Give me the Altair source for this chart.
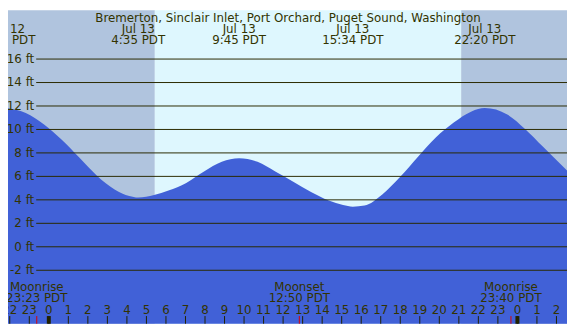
import altair as alt
import pandas as pd

# ---- data (hours relative to Jul 13 00:00 PDT) ----
tide_hours = [-2.09, -1.18, -0.26, 0.65, 1.56, 2.48, 3.39, 4.12, 4.58, 5.39, 6.13, 7.04, 7.95,
              8.86, 9.75, 10.69, 11.60, 12.52, 13.43, 14.34, 15.07, 15.57, 16.17, 17.08,
              18.0, 18.91, 19.82, 20.74, 21.65, 22.33, 23.48, 24.39, 25.30, 26.54]
tide_ft = [11.81, 11.4, 10.45, 9.14, 7.6, 6.04, 4.87, 4.33, 4.2, 4.41, 4.79, 5.44, 6.42,
           7.24, 7.54, 7.24, 6.42, 5.55, 4.68, 3.95, 3.56, 3.42, 3.51, 4.46,
           5.96, 7.67, 9.31, 10.59, 11.54, 11.82, 11.27, 10.04, 8.54, 6.5]

x_start, x_end = -2.09, 26.54
sunrise, sunset = 5.43, 21.12

grid_ft = [-2, 0, 2, 4, 6, 8, 10, 12, 14, 16]
grid_labels = ["-2 ft", "0 ft", "2 ft", "4 ft", "6 ft", "8 ft", "10 ft", "12 ft", "14 ft", "16 ft"]

hour_ticks = list(range(-2, 27))
hour_labels = [str(h % 24) for h in hour_ticks]

extreme_hours = [4.58, 9.75, 15.57, 22.33]
extreme_dates = ["Jul 13", "Jul 13", "Jul 13", "Jul 13"]
extreme_times = ["4:35 PDT", "9:45 PDT", "15:34 PDT", "22:20 PDT"]

moon_hours = [-0.617, 12.83, 23.67]
moon_events = ["Moonrise", "Moonset", "Moonrise"]
moon_times = ["23:23 PDT", "12:50 PDT", "23:40 PDT"]

title_text = "Bremerton, Sinclair Inlet, Port Orchard, Puget Sound, Washington"
corner_texts = ["12", "PDT"]

# ---- styling / layout ----
REF_W, REF_H = 575, 326
W, H = 567, 318
def sx(v):
    return v * W / REF_W
def sy(v):
    return v * H / REF_H

y_lo, y_hi = -6.56, 20.16
TXT = "#333300"
FONT = "DejaVu Sans"
FS = 12

xs = alt.Scale(domain=[x_start, x_end], range=[0, W], nice=False, zero=False)
ys = alt.Scale(domain=[y_lo, y_hi], range=[H, 0], nice=False, zero=False)

bg = pd.DataFrame({
    "x": [x_start, sunrise, sunset],
    "x2": [sunrise, sunset, x_end],
    "kind": ["night", "day", "night"],
})
bg_layer = alt.Chart(bg).mark_rect().encode(
    x=alt.X("x:Q", scale=xs, axis=None),
    x2="x2:Q",
    y=alt.value(0),
    y2=alt.value(H),
    color=alt.Color("kind:N", scale=alt.Scale(domain=["night", "day"], range=["#B0C4DE", "#DEF7FE"]), legend=None),
)

tide = pd.DataFrame({"h": tide_hours, "ft": tide_ft})
area_layer = alt.Chart(tide).mark_area(interpolate="monotone", color="#4161D7", opacity=1).encode(
    x=alt.X("h:Q", scale=xs, axis=None),
    y=alt.Y("ft:Q", scale=ys, axis=None),
    y2=alt.datum(y_lo),
)

grid = pd.DataFrame({"ft": grid_ft, "label": grid_labels})
grid_layer = alt.Chart(grid).mark_rule(color="#2a2a00", strokeWidth=1).encode(
    y=alt.Y("ft:Q", scale=ys, axis=None),
    x=alt.value(sx(29)),
    x2=alt.value(W),
)
grid_text = alt.Chart(grid).mark_text(align="right", baseline="middle", font=FONT, fontSize=FS, color=TXT).encode(
    y=alt.Y("ft:Q", scale=ys, axis=None),
    x=alt.value(sx(27)),
    text="label:N",
)

ticks = pd.DataFrame({"h": hour_ticks, "label": hour_labels})
tick_layer = alt.Chart(ticks).mark_rule(color="#222200", strokeWidth=1).encode(
    x=alt.X("h:Q", scale=xs, axis=None),
    y=alt.value(sy(318)),
    y2=alt.value(H),
)
zero_ticks = alt.Chart(ticks).transform_filter("datum.label == '0'").mark_rule(color="#222200", strokeWidth=4).encode(
    x=alt.X("h:Q", scale=xs, axis=None),
    y=alt.value(sy(318)),
    y2=alt.value(H),
)
tick_text = alt.Chart(ticks).mark_text(align="center", baseline="alphabetic", font=FONT, fontSize=FS, color=TXT).encode(
    x=alt.X("h:Q", scale=xs, axis=None),
    y=alt.value(sy(316)),
    text="label:N",
)

moon = pd.DataFrame({"h": moon_hours, "ev": moon_events, "t": moon_times})
moon_ticks = alt.Chart(moon).mark_rule(color="#DD0000", strokeWidth=1).encode(
    x=alt.X("h:Q", scale=xs, axis=None),
    y=alt.value(sy(318)),
    y2=alt.value(H),
)
moon_ev = alt.Chart(moon).mark_text(align="center", baseline="alphabetic", font=FONT, fontSize=FS, color=TXT).encode(
    x=alt.X("h:Q", scale=xs, axis=None), y=alt.value(sy(292)), text="ev:N")
moon_t = alt.Chart(moon).mark_text(align="center", baseline="alphabetic", font=FONT, fontSize=FS, color=TXT).encode(
    x=alt.X("h:Q", scale=xs, axis=None), y=alt.value(sy(303)), text="t:N")

ext = pd.DataFrame({"h": extreme_hours, "d": extreme_dates, "t": extreme_times})
ext_d = alt.Chart(ext).mark_text(align="center", baseline="alphabetic", font=FONT, fontSize=FS, color=TXT).encode(
    x=alt.X("h:Q", scale=xs, axis=None), y=alt.value(sy(24)), text="d:N")
ext_t = alt.Chart(ext).mark_text(align="center", baseline="alphabetic", font=FONT, fontSize=FS, color=TXT).encode(
    x=alt.X("h:Q", scale=xs, axis=None), y=alt.value(sy(35)), text="t:N")

title_layer = alt.Chart(pd.DataFrame({"t": [title_text]})).mark_text(
    align="center", baseline="alphabetic", font=FONT, fontSize=FS, color=TXT).encode(
    x=alt.value(sx(288)), y=alt.value(sy(12)), text="t:N")

corner = pd.DataFrame({"t": corner_texts, "x": [sx(2), sx(4)], "y": [sy(24), sy(35)]})
corner_layer = alt.Chart(corner).mark_text(align="left", baseline="alphabetic", font=FONT, fontSize=FS, color=TXT).encode(
    x=alt.X("x:Q", scale=None, axis=None), y=alt.Y("y:Q", scale=None, axis=None), text="t:N")

chart = alt.layer(
    bg_layer, area_layer, grid_layer, grid_text, tick_layer, zero_ticks, moon_ticks,
    tick_text, moon_ev, moon_t, ext_d, ext_t, title_layer, corner_layer,
).properties(
    width=W, height=H,
    autosize=alt.AutoSizeParams(type="none"),
    padding=0,
).configure_view(stroke=None)

chart.save("out.html", embed_options={"renderer": "svg", "actions": False})
